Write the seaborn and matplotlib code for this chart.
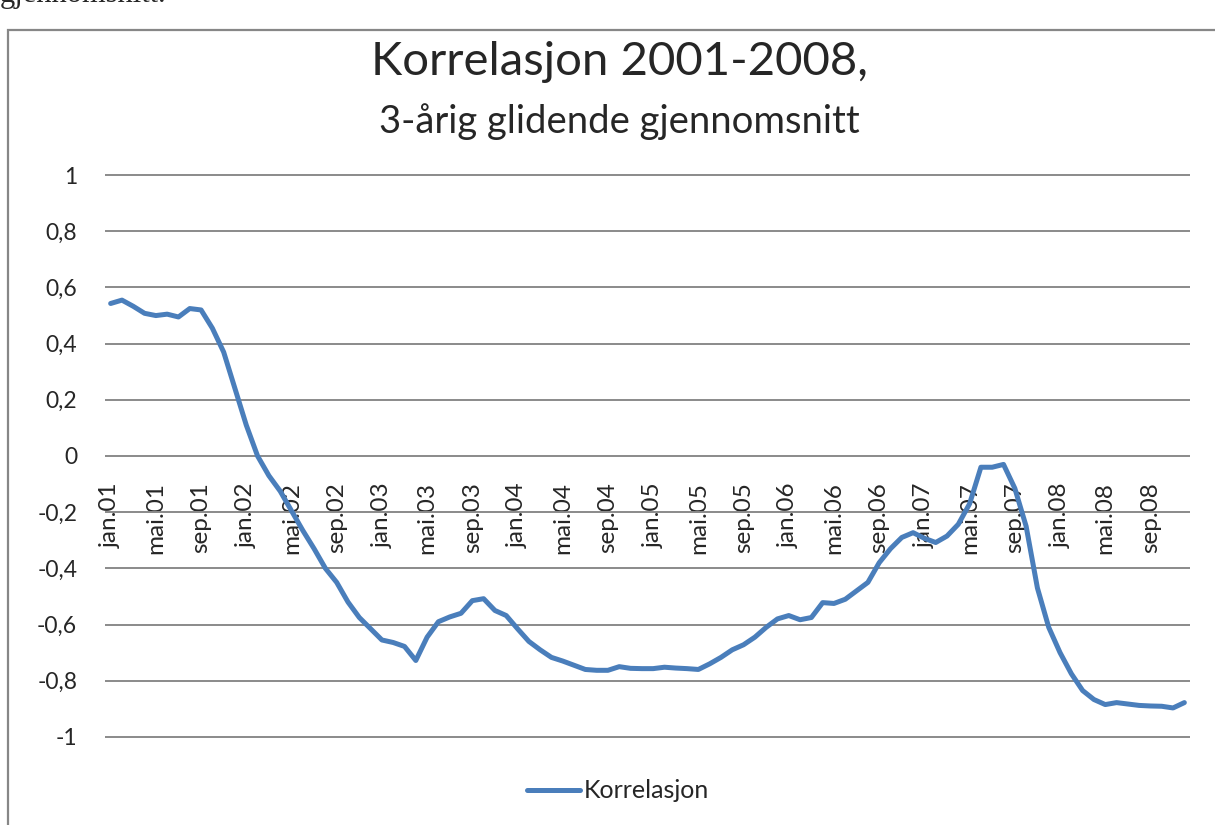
import numpy as np
import pandas as pd
import matplotlib
matplotlib.use("Agg")
import matplotlib.pyplot as plt
import seaborn as sns
from matplotlib.patches import Rectangle

# 3-year rolling correlation, monthly jan.01 - des.08
korrelasjon = [
    0.543, 0.555, 0.533, 0.508, 0.500, 0.505, 0.495, 0.525, 0.520, 0.455, 0.370, 0.240,
    0.110, 0.000, -0.070, -0.125, -0.195, -0.265, -0.330, -0.400, -0.450, -0.520, -0.575, -0.615,
    -0.655, -0.664, -0.678, -0.728, -0.645, -0.590, -0.573, -0.560, -0.515, -0.508, -0.550, -0.568,
    -0.615, -0.660, -0.690, -0.717, -0.730, -0.745, -0.760, -0.763, -0.763, -0.750, -0.756, -0.757,
    -0.757, -0.752, -0.755, -0.757, -0.760, -0.740, -0.717, -0.690, -0.672, -0.645, -0.610, -0.580,
    -0.568, -0.583, -0.575, -0.522, -0.525, -0.510, -0.480, -0.450, -0.380, -0.330, -0.290, -0.273,
    -0.293, -0.308, -0.285, -0.243, -0.170, -0.040, -0.040, -0.030, -0.115, -0.250, -0.470, -0.610,
    -0.700, -0.775, -0.835, -0.867, -0.885, -0.878, -0.883, -0.888, -0.890, -0.891, -0.897, -0.878,
]
maaneder = ["jan", "feb", "mar", "apr", "mai", "jun", "jul", "aug", "sep", "okt", "nov", "des"]
aar = ["01", "02", "03", "04", "05", "06", "07", "08"]
yticks = [-1, -0.8, -0.6, -0.4, -0.2, 0, 0.2, 0.4, 0.6, 0.8, 1]

datoer = [m + "." + a for a in aar for m in maaneder]
df = pd.DataFrame({"pos": range(len(korrelasjon)), "Korrelasjon": korrelasjon})

sns.set_style("white")
plt.rcParams["font.family"] = ["Lato", "DejaVu Sans"]

fig = plt.figure(figsize=(12.15, 8.25), dpi=100)
ax = fig.add_axes([105 / 1215, 1 - 738 / 825, (1190 - 105) / 1215, (738 - 174) / 825])

sns.lineplot(data=df, x="pos", y="Korrelasjon", ax=ax, color="#4a7ebb",
             linewidth=3.6, label="Korrelasjon", zorder=3)

ax.set_xlim(-0.5, len(korrelasjon) - 0.5)
ax.set_ylim(-1.004, 1.004)
ax.set_yticks(yticks)
ax.set_yticklabels([("%g" % v).replace(".", ",") for v in yticks], fontsize=16.5)
ax.grid(axis="y", color="#8a8a8a", linewidth=1.4)
ax.grid(axis="x", visible=False)

# x labels sit under the zero line, like in Excel
ax.spines["bottom"].set_position(("data", 0))
for s in ["left", "right", "top", "bottom"]:
    ax.spines[s].set_visible(False)
pos = list(range(0, len(datoer), 4))
ax.set_xticks(pos)
ax.set_xticklabels([datoer[p] for p in pos], rotation=90, fontsize=17.5, va="top")
ax.tick_params(axis="x", length=0, pad=19)
ax.tick_params(axis="y", length=0, pad=20)
ax.set_xlabel("")
ax.set_ylabel("")

leg = ax.legend(loc="center", bbox_to_anchor=(618 / 1215, 1 - 791 / 825),
                bbox_transform=fig.transFigure, frameon=False, fontsize=18,
                handlelength=2.1, handletextpad=0.15)

fig.text(0.51, 1 - 62 / 825, "Korrelasjon 2001-2008,", ha="center", va="center",
         fontsize=34)
fig.text(0.51, 1 - 122 / 825, "3-årig glidende gjennomsnitt", ha="center", va="center",
         fontsize=27.5)

# surrounding chart border and cut-off text above it
fig.patches.append(Rectangle((8 / 1215, -0.05), 1.2, 1 - 30 / 825 + 0.05,
                             transform=fig.transFigure, fill=False,
                             edgecolor="#878787", linewidth=1.6))
fig.text(0.0, 1 - 2 / 825, "gjennomsnitt.", ha="left", va="baseline",
         fontsize=22, family=["Liberation Serif", "DejaVu Serif"])

fig.savefig("out.png", dpi=100)
